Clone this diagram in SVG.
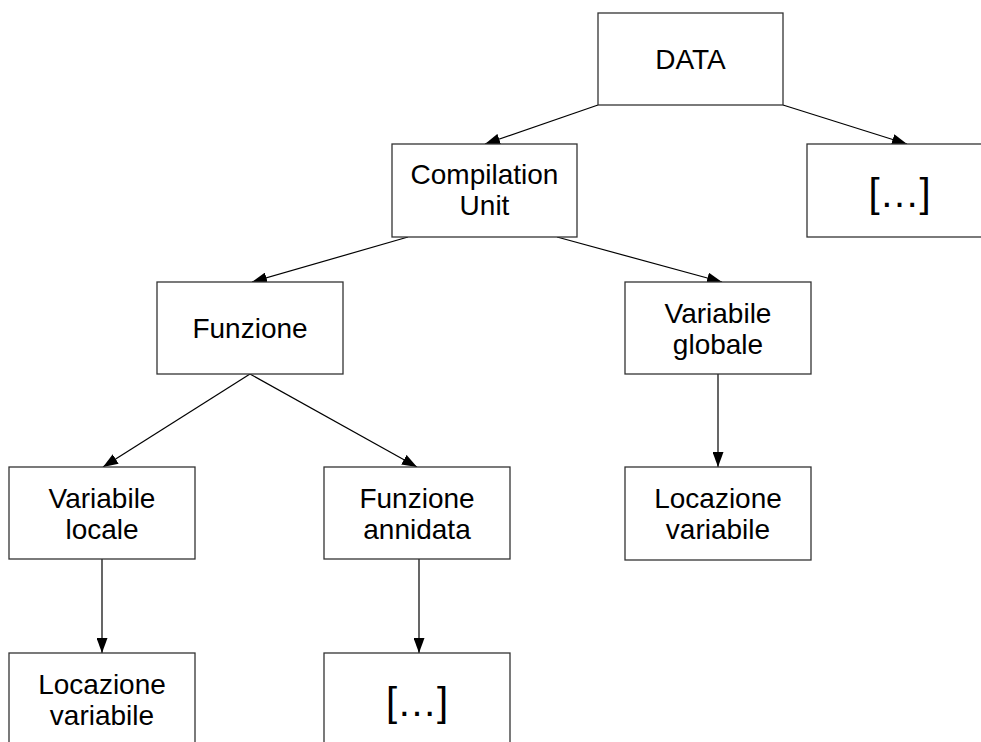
<svg xmlns="http://www.w3.org/2000/svg" width="981" height="742" viewBox="0 0 981 742">
<style>
.box{fill:#fff;stroke:#333;stroke-width:1.3}
.t{font-family:"Liberation Sans",Arial,sans-serif;font-size:28px;fill:#000;text-anchor:middle}
.big{font-size:40px}
.c{stroke:#000;stroke-width:1.2;fill:none;marker-end:url(#ah)}
</style>
<defs>
<marker id="ah" viewBox="0 0 15 11" refX="15" refY="5.5" markerWidth="15" markerHeight="11" markerUnits="userSpaceOnUse" orient="auto">
<path d="M0,0 L15,5.5 L0,11 Z" fill="#000"/>
</marker>
</defs>
<rect width="981" height="742" fill="#fff"/>
<g id="connectors">
<line class="c" x1="598" y1="105" x2="485" y2="144"/>
<line class="c" x1="783" y1="105" x2="907" y2="144"/>
<line class="c" x1="408" y1="237" x2="252" y2="282"/>
<line class="c" x1="557" y1="237" x2="722" y2="282"/>
<line class="c" x1="250" y1="374" x2="103" y2="467"/>
<line class="c" x1="250" y1="374" x2="417" y2="467"/>
<line class="c" x1="718" y1="374" x2="718" y2="467"/>
<line class="c" x1="102" y1="559" x2="102" y2="653"/>
<line class="c" x1="419" y1="559" x2="419" y2="653"/>
</g>
<g id="data">
<rect class="box" x="598" y="13" width="185" height="92"/>
<text class="t" x="690.5" y="69">DATA</text>
</g>
<g id="cu">
<rect class="box" x="392" y="144" width="185" height="93"/>
<text class="t" x="484.5" y="184">Compilation</text>
<text class="t" x="484.5" y="215">Unit</text>
</g>
<g id="etc1">
<rect class="box" x="807" y="144" width="185" height="93"/>
<text class="t big" x="899.5" y="207">[…]</text>
</g>
<g id="funzione">
<rect class="box" x="157" y="282" width="186" height="92"/>
<text class="t" x="250" y="338">Funzione</text>
</g>
<g id="vglobale">
<rect class="box" x="625" y="282" width="186" height="92"/>
<text class="t" x="718" y="323">Variabile</text>
<text class="t" x="718" y="354">globale</text>
</g>
<g id="vlocale">
<rect class="box" x="9" y="467" width="186" height="92"/>
<text class="t" x="102" y="508">Variabile</text>
<text class="t" x="102" y="539">locale</text>
</g>
<g id="fannidata">
<rect class="box" x="324" y="467" width="186" height="92"/>
<text class="t" x="417" y="508">Funzione</text>
<text class="t" x="417" y="539">annidata</text>
</g>
<g id="locvar1">
<rect class="box" x="625" y="467" width="186" height="93"/>
<text class="t" x="718" y="508">Locazione</text>
<text class="t" x="718" y="539">variabile</text>
</g>
<g id="locvar2">
<rect class="box" x="9" y="653" width="186" height="93"/>
<text class="t" x="102" y="694">Locazione</text>
<text class="t" x="102" y="725">variabile</text>
</g>
<g id="etc2">
<rect class="box" x="324" y="653" width="186" height="93"/>
<text class="t big" x="417" y="716">[…]</text>
</g>
</svg>
